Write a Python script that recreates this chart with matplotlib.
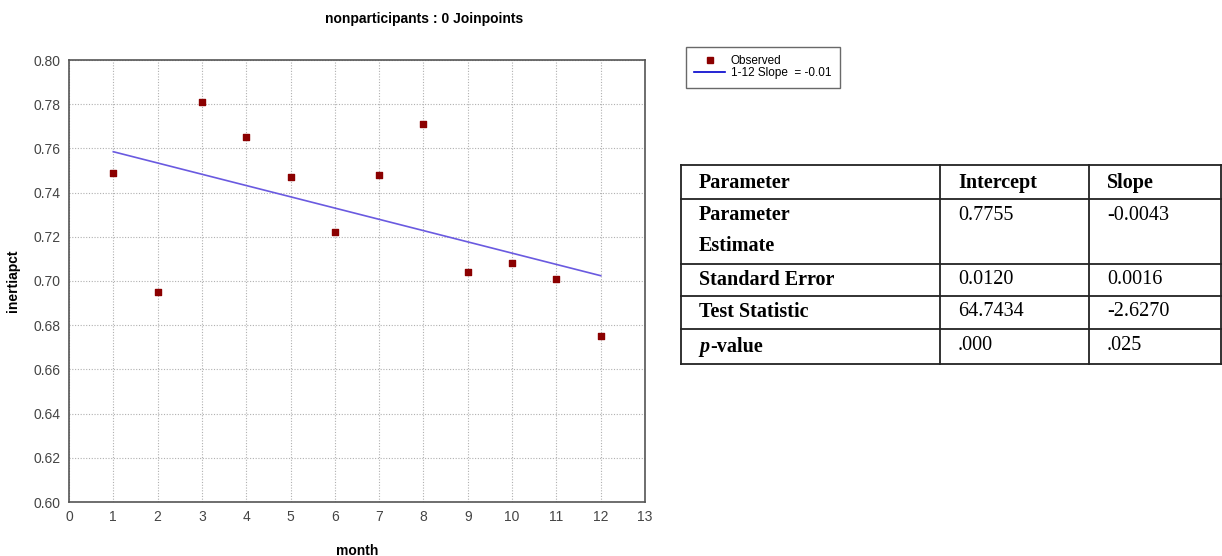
import matplotlib
matplotlib.use("Agg")
import matplotlib.pyplot as plt
from matplotlib.lines import Line2D

# ---- data ----
months = [1, 2, 3, 4, 5, 6, 7, 8, 9, 10, 11, 12]
inertiapct = [0.749, 0.695, 0.781, 0.765, 0.747, 0.722, 0.748, 0.771, 0.704, 0.708, 0.701, 0.675]
fit_months = [1, 12]
fit_values = [0.7585, 0.7024]
x_ticks = list(range(0, 14))
y_ticks = [0.60, 0.62, 0.64, 0.66, 0.68, 0.70, 0.72, 0.74, 0.76, 0.78, 0.80]

table_header = ["Parameter", "Intercept", "Slope"]
table_rows = [
    ["Parameter\nEstimate", "0.7755", "-0.0043"],
    ["Standard Error", "0.0120", "0.0016"],
    ["Test Statistic", "64.7434", "-2.6270"],
    ["p-value", ".000", ".025"],
]

plt.rcParams["font.family"] = ["Liberation Sans", "DejaVu Sans"]

W, H = 1222, 556
fig = plt.figure(figsize=(W / 100, H / 100), dpi=100)
fig.patch.set_facecolor("white")

def fx(px):
    return px / W

def fy(py):
    return 1 - py / H

ax = fig.add_axes([fx(69), fy(502), fx(645) - fx(69), fy(60) - fy(502)])
ax.set_xlim(0, 13)
ax.set_ylim(0.60, 0.80)
ax.set_xticks(x_ticks)
ax.set_yticks(y_ticks)
ax.set_yticklabels([f"{v:.2f}" for v in y_ticks])
ax.grid(True, color="#b0b0b0", linestyle=(0, (1, 1.5)), linewidth=0.8)
ax.set_axisbelow(True)
for s in ax.spines.values():
    s.set_color("#555555")
    s.set_linewidth(1.2)
ax.tick_params(length=0, labelsize=10, labelcolor="#444444", pad=6)

ax.plot(fit_months, fit_values, color="#6a5ae0", linewidth=1.2, label="1-12 Slope  = -0.01", zorder=2)
ax.scatter(months, inertiapct, marker="s", s=22, color="#8b0000", label="Observed", zorder=3)

ax.set_xlabel("month", fontsize=10, fontweight="bold", labelpad=14)
ax.set_ylabel("inertiapct", fontsize=10, fontweight="bold", labelpad=10)
fig.text(fx(424), fy(19), "nonparticipants : 0 Joinpoints", ha="center", va="center",
         fontsize=10, fontweight="bold")

# legend
handles = [
    Line2D([], [], marker="s", linestyle="none", color="#8b0000", markersize=4),
    Line2D([], [], color="#0000cc", linewidth=1.2),
]
leg = fig.legend(handles, ["Observed", "1-12 Slope  = -0.01"], loc="upper left",
                 bbox_to_anchor=(fx(686), fy(47)), fontsize=8.5, frameon=True,
                 fancybox=False, edgecolor="#444444", handlelength=2.6,
                 borderpad=0.7, labelspacing=0.0, handletextpad=0.5, borderaxespad=0)
leg.get_frame().set_linewidth(1.0)

# table
tax = fig.add_axes([0, 0, 1, 1])
tax.set_xlim(0, W)
tax.set_ylim(H, 0)
tax.axis("off")
col_x = [681, 940, 1089, 1221]
row_y = [165, 199, 264, 296, 329, 364]
lc = "#222222"
for y in row_y:
    tax.plot([col_x[0], col_x[-1]], [y, y], color=lc, linewidth=1.3)
for x in col_x:
    tax.plot([x, x], [row_y[0], row_y[-1]], color=lc, linewidth=1.3)

serif = "Liberation Serif"
fs = 14.5
for j, t in enumerate(table_header):
    tax.text(col_x[j] + 18, (row_y[0] + row_y[1]) / 2 + 1, t, ha="left", va="center",
             fontsize=fs, fontweight="bold", family=serif)
for i, row in enumerate(table_rows):
    ytop = row_y[i + 1]
    for j, t in enumerate(row):
        if j == 0:
            if t.startswith("p-"):
                tax.text(col_x[j] + 18, ytop + 18, "p", ha="left", va="center",
                         fontsize=fs, fontweight="bold", fontstyle="italic", family=serif)
                tax.text(col_x[j] + 18 + 11, ytop + 18, "-value", ha="left", va="center",
                         fontsize=fs, fontweight="bold", family=serif)
                continue
            lines = t.split("\n")
            for k, ln in enumerate(lines):
                tax.text(col_x[j] + 18, ytop + 16 + k * 31, ln, ha="left", va="center",
                         fontsize=fs, fontweight="bold", family=serif)
        else:
            tax.text(col_x[j] + 18, ytop + 16, t, ha="left", va="center",
                     fontsize=fs, family=serif)

fig.savefig("out.png", dpi=100, facecolor="white")
